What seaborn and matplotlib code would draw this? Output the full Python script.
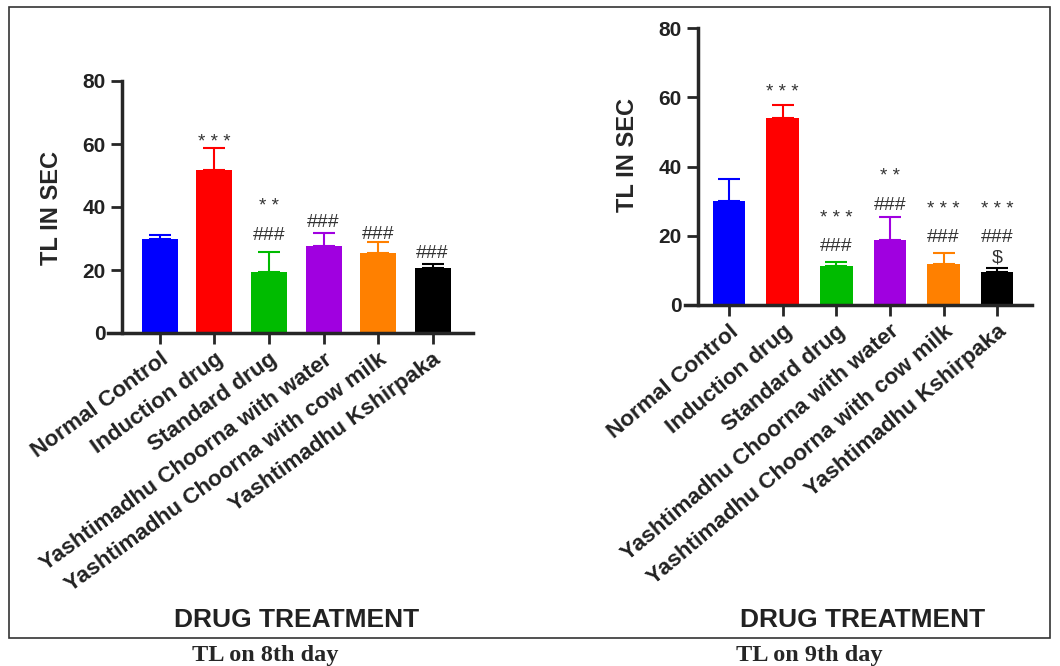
import numpy as np
import pandas as pd
import seaborn as sns
import matplotlib.pyplot as plt
from matplotlib.patches import Rectangle

groups = ['Normal Control', 'Induction drug', 'Standard drug',
          'Yashtimadhu Choorna with water', 'Yashtimadhu Choorna with cow milk',
          'Yashtimadhu Kshirpaka']
colors = ['#0000ff', '#ff0000', '#00bb00', '#a000e0', '#ff8000', '#000000']

# TL (sec) on 8th day: mean and upper error
day8_mean = [29.8, 51.7, 19.5, 27.6, 25.5, 20.5]
day8_err = [1.4, 6.9, 6.3, 4.2, 3.5, 1.4]
# TL (sec) on 9th day
day9_mean = [30.1, 54.0, 11.4, 18.8, 11.8, 9.6]
day9_err = [6.3, 3.8, 1.1, 6.7, 3.3, 1.0]

# significance marks: (bar index, text, y)
day8_marks = [(1, '* * *', 60.4), (2, '* *', 40.1), (2, '###', 31.1),
              (3, '###', 35.1), (4, '###', 31.4), (5, '###', 25.3)]
day9_marks = [(1, '* * *', 61.4), (2, '* * *', 25.1), (2, '###', 17.0),
              (3, '* *', 37.1), (3, '###', 28.9), (4, '* * *', 27.5), (4, '###', 19.4),
              (5, '* * *', 27.5), (5, '###', 19.4), (5, '$', 13.6)]

sns.set_style('ticks')
plt.rcParams['font.family'] = ['Liberation Sans', 'DejaVu Sans']

fig = plt.figure(figsize=(10.6, 6.66), dpi=100)


def draw_panel(ax, means, errs, marks, width, xlo, yax, xhi, rot):
    df = pd.DataFrame({'group': groups, 'tl': means})
    sns.barplot(data=df, x='group', y='tl', hue='group', palette=colors,
                width=width, errorbar=None, legend=False, ax=ax,
                linewidth=0, saturation=1)
    for i, (m, e) in enumerate(zip(means, errs)):
        ax.errorbar(i, m, yerr=[[0], [e]], color=colors[i], capsize=8,
                    elinewidth=1.5, capthick=1.5, zorder=1)
    for i, txt, y in marks:
        star = txt.startswith('*')
        ax.text(i, y, txt, ha='center', va='center',
                fontsize=13.5 if star else 14, color='#333333')
    ax.set_ylim(0, 80)
    ax.set_xlim(xlo, xhi)
    ax.set_yticks([0, 20, 40, 60, 80])
    ax.spines['left'].set_position(('data', yax))
    ax.spines['left'].set_linewidth(2.5)
    ax.spines['bottom'].set_linewidth(2.5)
    sns.despine(ax=ax)
    ax.tick_params(axis='both', length=8, width=2, labelsize=15,
                   labelcolor='#222222')
    ax.set_xticks(range(len(groups)))
    ax.set_xticklabels(groups, rotation=rot, ha='right', rotation_mode='anchor',
                       fontsize=16.2, fontweight='bold')
    for lab in ax.get_yticklabels():
        lab.set_fontweight('bold')
    ax.set_xlabel('')
    ax.set_ylabel('')


ax1 = fig.add_axes([108 / 1060, 0.5, 365 / 1060, 252 / 666])
draw_panel(ax1, day8_mean, day8_err, day8_marks, 0.66, -0.95, -0.70, 5.74, 36)
ax2 = fig.add_axes([685 / 1060, (666 - 305) / 666, 347 / 1060, 276.7 / 666])
draw_panel(ax2, day9_mean, day9_err, day9_marks, 0.61, -0.82, -0.58, 5.65, 40)

fig.text(52 / 1060, 1 - 208 / 666, 'TL IN SEC', rotation=90, ha='center',
         va='center', fontsize=17, fontweight='bold')
fig.text(627 / 1060, 1 - 155 / 666, 'TL IN SEC', rotation=90, ha='center',
         va='center', fontsize=17, fontweight='bold')
fig.text(297 / 1060, 1 - 620 / 666, 'DRUG TREATMENT', ha='center', va='center',
         fontsize=19, fontweight='bold', color='#222222')
fig.text(863 / 1060, 1 - 620 / 666, 'DRUG TREATMENT', ha='center', va='center',
         fontsize=19, fontweight='bold', color='#222222')
fig.text(265 / 1060, 1 - 655 / 666, 'TL on 8th day', ha='center', va='center',
         fontsize=17.5, fontweight='bold', family=['Liberation Serif'])
fig.text(809 / 1060, 1 - 655 / 666, 'TL on 9th day', ha='center', va='center',
         fontsize=17.5, fontweight='bold', family=['Liberation Serif'])

fig.patches.append(Rectangle((9 / 1060, 1 - 638 / 666), 1041 / 1060, 631 / 666,
                             transform=fig.transFigure, fill=False,
                             edgecolor='#333333', linewidth=1.2))

fig.savefig('out.png', dpi=100)
